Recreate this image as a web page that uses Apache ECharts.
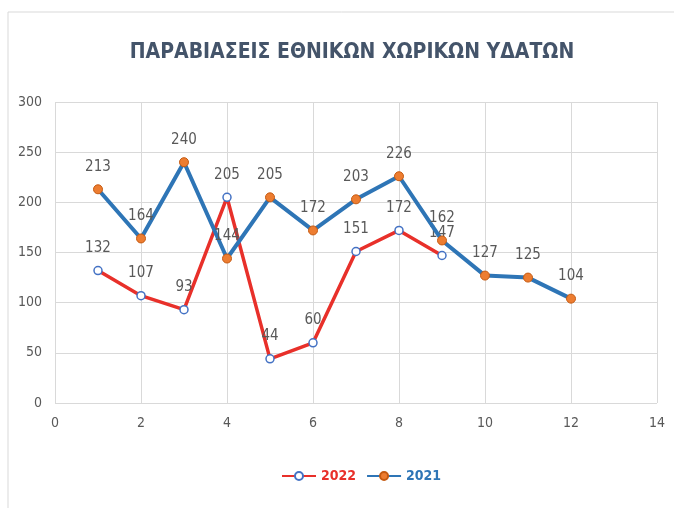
<!DOCTYPE html>
<html>
<head>
<meta charset="utf-8">
<script src="https://cdn.jsdelivr.net/npm/echarts@6/dist/echarts.min.js"></script>
<style>
  html, body { margin: 0; padding: 0; background: #fff; }
  #main { width: 674px; height: 508px; }
</style>
</head>
<body>
<div id="main"></div>
<script>
var months = [1, 2, 3, 4, 5, 6, 7, 8, 9, 10, 11, 12];
var values2022 = [132, 107, 93, 205, 44, 60, 151, 172, 147];
var values2021 = [213, 164, 240, 144, 205, 172, 203, 226, 162, 127, 125, 104];

function pairs(vals) {
  return vals.map(function (v, i) { return [months[i], v]; });
}

var myChart = echarts.init(document.getElementById('main'));
var option = {
  animation: false,
  textStyle: { fontFamily: 'DejaVu Sans Condensed' },
  title: {
    text: 'ΠΑΡΑΒΙΑΣΕΙΣ ΕΘΝΙΚΩΝ ΧΩΡΙΚΩΝ ΥΔΑΤΩΝ',
    left: 347,
    textAlign: 'center',
    top: 37,
    textStyle: { fontFamily: 'DejaVu Sans Condensed', fontWeight: 'bold', fontSize: 21, color: '#44546A' }
  },
  graphic: [{
    type: 'rect',
    shape: { x: 8, y: 12, width: 700, height: 600 },
    style: { fill: 'none', stroke: '#d9d9d9', lineWidth: 1 }
  }],
  grid: { left: 55, right: 17, top: 102, bottom: 105 },
  legend: {
    bottom: 20,
    left: 276,
    itemWidth: 34,
    itemHeight: 10,
    itemGap: 10,
    textStyle: { fontWeight: 'bold', fontSize: 14 },
    data: [
      { name: '2022', textStyle: { color: '#E8302A' } },
      { name: '2021', textStyle: { color: '#2E75B6' } }
    ]
  },
  xAxis: {
    type: 'value',
    min: 0, max: 14, interval: 2,
    axisLine: { show: false },
    axisTick: { show: false },
    axisLabel: { color: '#595959', fontSize: 14, margin: 13 },
    splitLine: { show: true, lineStyle: { color: '#d9d9d9' } }
  },
  yAxis: {
    type: 'value',
    min: 0, max: 300, interval: 50,
    axisLine: { show: false },
    axisTick: { show: false },
    axisLabel: { color: '#595959', fontSize: 14, margin: 13 },
    splitLine: { show: true, lineStyle: { color: '#d9d9d9' } }
  },
  series: [
    {
      name: '2022',
      type: 'line',
      data: pairs(values2022),
      symbol: 'circle',
      symbolSize: 8,
      lineStyle: { color: '#E8302A', width: 3.5 },
      itemStyle: { color: '#ffffff', borderColor: '#4472C4', borderWidth: 1.5 },
      label: { show: true, position: 'top', distance: 10, color: '#595959', fontSize: 15 },
      z: 2
    },
    {
      name: '2021',
      type: 'line',
      data: pairs(values2021),
      symbol: 'circle',
      symbolSize: 9,
      lineStyle: { color: '#2E75B6', width: 4 },
      itemStyle: { color: '#ED7D31', borderColor: '#C55A11', borderWidth: 1 },
      label: { show: true, position: 'top', distance: 10, color: '#595959', fontSize: 15 },
      z: 3
    }
  ]
};
myChart.setOption(option);
</script>
</body>
</html>
